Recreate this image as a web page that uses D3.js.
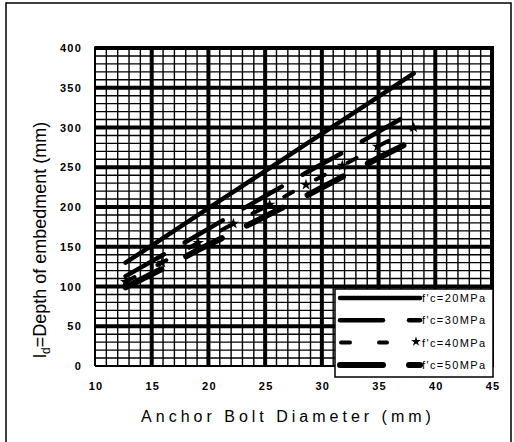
<!DOCTYPE html>
<html>
<head>
<meta charset="utf-8">
<script src="https://cdn.jsdelivr.net/npm/d3@7"></script>
<style>
  body { margin: 0; background: #fff; }
  text { font-family: "Liberation Sans", Arial, sans-serif; fill: #000; }
  .tick-label { font-size: 11px; font-weight: bold; letter-spacing: 1.2px; }
  .legend-label { font-size: 11px; letter-spacing: 1.4px; }
</style>
</head>
<body>
<svg id="chart"></svg>
<script>
// chart data
const diameters = [12.7, 15.9, 19.1, 22.2, 25.4, 28.6, 31.8, 34.9, 38.1];
const fc20 = [130, 160, 190, 219, 249, 279, 309, 338, 368];
const fc30 = [113, 139, 165, 191, 217, 243, 268, 294, 320];
const fc40 = [106, 130, 155, 179, 203, 228, 252, 276, 300];
const fc50 = [99, 122, 146, 168, 191, 214, 238, 261, 284];
const seriesNames = ["f'c=20MPa", "f'c=30MPa", "f'c=40MPa", "f'c=50MPa"];
const xTicks = [10, 15, 20, 25, 30, 35, 40, 45];
const yTicks = [0, 50, 100, 150, 200, 250, 300, 350, 400];

const width = 514;
const height = 442;

const svg = d3.select('svg#chart').attr('width', width).attr('height', height);

// outer frame of the scanned figure
svg.append('rect')
    .attr('x', 6).attr('y', 3)
    .attr('width', 505).attr('height', 445)
    .attr('fill', 'none').attr('stroke', '#000').attr('stroke-width', 1.5);

const x = d3.scaleLinear().domain([10, 45]).range([95, 492]);
const y = d3.scaleLinear().domain([0, 400]).range([366, 48]);

const grid = svg.append('g');

// minor grid (1 mm x 10 mm)
grid.selectAll('.minor-x')
    .data(d3.range(10, 45.01, 1).filter(d => d % 5 !== 0))
    .enter().append('line')
    .attr('x1', d => x(d)).attr('x2', d => x(d))
    .attr('y1', y(0)).attr('y2', y(400))
    .attr('stroke', '#000').attr('stroke-width', 1.4);

grid.selectAll('.minor-y')
    .data(d3.range(0, 400.1, 10).filter(d => d % 50 !== 0))
    .enter().append('line')
    .attr('x1', x(10)).attr('x2', x(45))
    .attr('y1', d => y(d)).attr('y2', d => y(d))
    .attr('stroke', '#000').attr('stroke-width', 1.4);

// major grid
grid.selectAll('.major-x')
    .data(xTicks)
    .enter().append('line')
    .attr('x1', d => x(d)).attr('x2', d => x(d))
    .attr('y1', y(0)).attr('y2', y(400) - 1.5)
    .attr('stroke', '#000').attr('stroke-width', d => d === 10 ? 2 : 4);

grid.selectAll('.major-y')
    .data(yTicks)
    .enter().append('line')
    .attr('x1', x(10)).attr('x2', x(45) + 2)
    .attr('y1', d => y(d)).attr('y2', d => y(d))
    .attr('stroke', '#000').attr('stroke-width', d => d === 0 ? 2 : 4);

// tick labels
svg.selectAll('.ylab')
    .data(yTicks)
    .enter().append('text')
    .attr('class', 'tick-label')
    .attr('x', 82)
    .attr('y', d => y(d) + 4)
    .attr('text-anchor', 'end')
    .text(d => d);

svg.selectAll('.xlab')
    .data(xTicks)
    .enter().append('text')
    .attr('class', 'tick-label')
    .attr('x', d => x(d) + 1)
    .attr('y', 390)
    .attr('text-anchor', 'middle')
    .text(d => d);

// axis titles
svg.append('text')
    .attr('x', 288).attr('y', 422)
    .attr('text-anchor', 'middle')
    .style('font-size', '16px')
    .style('letter-spacing', '4px')
    .text('Anchor Bolt Diameter (mm)');

// y title drawn from its start, since tspans shift the anchor
const ytitle = svg.append('text')
    .attr('transform', 'translate(46,358) rotate(-90)')
    .style('font-size', '18px');
ytitle.append('tspan').text('l');
ytitle.append('tspan').attr('dy', 4).style('font-size', '12px').text('d');
ytitle.append('tspan').attr('dy', -4).text('=Depth of embedment (mm)');

// series
const series = [
    {name: seriesNames[0], values: fc20, width: 4.5, dash: null, star: false},
    {name: seriesNames[1], values: fc30, width: 4.5, dash: '44,24', star: false},
    {name: seriesNames[2], values: fc40, width: 4, dash: '10,26', star: true},
    {name: seriesNames[3], values: fc50, width: 6, dash: '40,28', star: false}
];

const line = d3.line()
    .x((d, i) => x(diameters[i]))
    .y(d => y(d));

const plot = svg.append('g');
series.forEach(s => {
    plot.append('path')
        .datum(s.values)
        .attr('d', line)
        .attr('fill', 'none')
        .attr('stroke', '#000')
        .attr('stroke-width', s.width)
        .attr('stroke-linecap', 'round')
        .attr('stroke-dasharray', s.dash);
    if (s.star) {
        plot.selectAll(null)
            .data(s.values)
            .enter().append('path')
            .attr('d', d3.symbol(d3.symbolStar).size(40))
            .attr('transform', (d, i) => `translate(${x(diameters[i])},${y(d)})`)
            .attr('fill', '#000');
    }
});

// legend
const legend = svg.append('g');
legend.append('rect')
    .attr('x', 335).attr('y', 289)
    .attr('width', 158).attr('height', 88)
    .attr('fill', '#fff').attr('stroke', '#000').attr('stroke-width', 1.5);

series.forEach((s, i) => {
    const ly = 298 + i * 22.3;
    const row = legend.append('g');
    if (s.dash) {
        const d0 = s.dash === '10,26' ? [[341, 350], [379, 387]] : [[340, 383], [409, 420]];
        d0.forEach(seg => {
            row.append('line')
                .attr('x1', seg[0]).attr('x2', seg[1])
                .attr('y1', ly).attr('y2', ly)
                .attr('stroke', '#000').attr('stroke-width', s.width)
                .attr('stroke-linecap', 'round');
        });
    } else {
        row.append('line')
            .attr('x1', 340).attr('x2', 420)
            .attr('y1', ly).attr('y2', ly)
            .attr('stroke', '#000').attr('stroke-width', s.width)
            .attr('stroke-linecap', 'round');
    }
    if (s.star) {
        row.append('path')
            .attr('d', d3.symbol(d3.symbolStar).size(30))
            .attr('transform', `translate(416,${ly - 1})`)
            .attr('fill', '#000');
    }
    row.append('text')
        .attr('class', 'legend-label')
        .attr('x', 422).attr('y', ly + 4)
        .text(s.name);
});
</script>
</body>
</html>
